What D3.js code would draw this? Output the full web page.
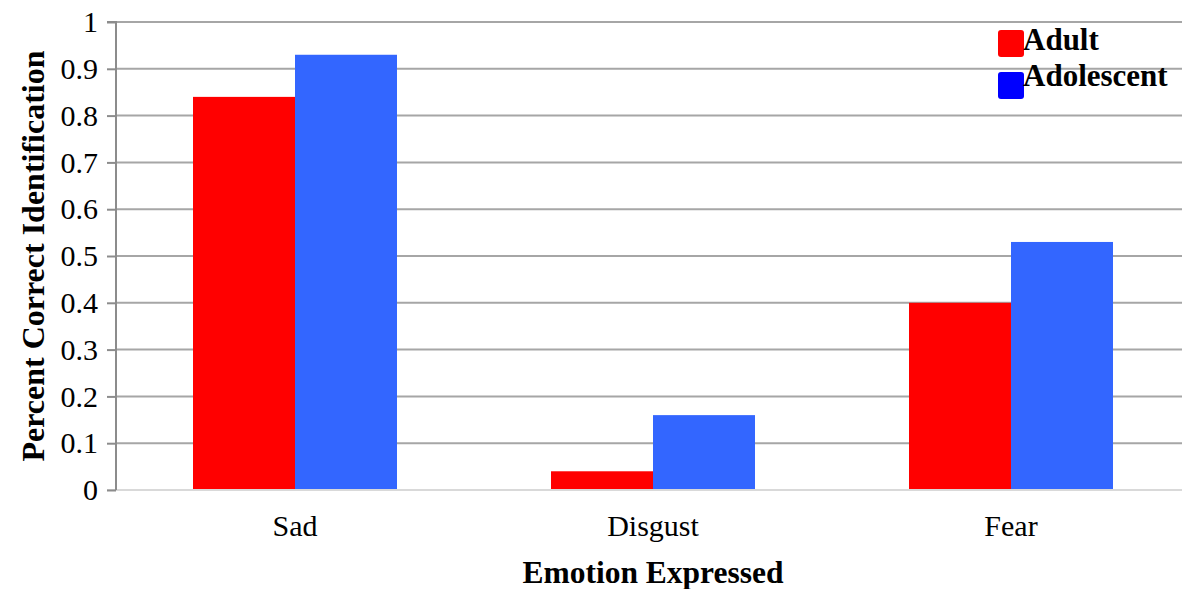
<!DOCTYPE html>
<html><head><meta charset="utf-8">
<script src="https://cdn.jsdelivr.net/npm/d3@7/dist/d3.min.js"></script>
<style>body{margin:0;background:#fff;}svg{display:block;}</style>
</head><body>
<svg id="c" width="1182" height="589"></svg>
<script>
const categories = ["Sad", "Disgust", "Fear"];
const seriesNames = ["Adult", "Adolescent"];
const adultValues = [0.84, 0.04, 0.40];
const adolescentValues = [0.93, 0.16, 0.53];
const yTicks = [0, 0.1, 0.2, 0.3, 0.4, 0.5, 0.6, 0.7, 0.8, 0.9, 1];
const yTickLabels = ["0", "0.1", "0.2", "0.3", "0.4", "0.5", "0.6", "0.7", "0.8", "0.9", "1"];

const barColors = ["#ff0000", "#3366ff"];
const legendColors = ["#ff0000", "#0000ff"];
const font = "'Liberation Serif','Times New Roman',serif";

const svg = d3.select("#c");
const mLeft = 116, mRight = 1190, mTop = 22, mBottom = 490;

const x = d3.scaleBand().domain(categories).range([mLeft, mRight]).paddingInner(0).paddingOuter(0);
const y = d3.scaleLinear().domain([0, 1]).range([mBottom, mTop]);
const inner = d3.scaleBand().domain(seriesNames).range([77, x.bandwidth() - 77]);

// gridlines
svg.append("g").selectAll("line").data(yTicks.filter(d => d > 0)).join("line")
  .attr("x1", mLeft).attr("x2", 1182)
  .attr("y1", d => y(d)).attr("y2", d => y(d))
  .attr("stroke", "#a6a6a6").attr("stroke-width", 2);

// bars
const data = categories.map((c, i) => ({cat: c, vals: [adultValues[i], adolescentValues[i]]}));
const g = svg.append("g");
data.forEach(d => {
  d.vals.forEach((v, j) => {
    g.append("rect")
      .attr("x", x(d.cat) + inner(seriesNames[j]))
      .attr("width", inner.bandwidth())
      .attr("y", y(v))
      .attr("height", y(0) - y(v))
      .attr("fill", barColors[j]);
  });
});

// baseline
svg.append("line").attr("x1", mLeft - 9).attr("x2", 1182).attr("y1", mBottom).attr("y2", mBottom)
  .attr("stroke", "#d9d9d9").attr("stroke-width", 2);

// y axis
const yAxis = d3.axisLeft(y).tickValues(yTicks).tickFormat((d, i) => yTickLabels[i]).tickSize(9).tickPadding(9);
const ya = svg.append("g").attr("transform", `translate(${mLeft},0)`).call(yAxis);
ya.select(".domain").attr("stroke", "#8c8c8c").attr("stroke-width", 2).attr("d", `M-9,${mTop}H0V${mBottom}`);
ya.selectAll(".tick line").attr("stroke", "#8c8c8c").attr("stroke-width", 2);
ya.selectAll(".tick text").attr("font-family", font).attr("font-size", 30).attr("fill", "#000");

// x axis labels
const xAxis = d3.axisBottom(x).tickSize(0).tickPadding(25);
const xa = svg.append("g").attr("transform", `translate(0,${mBottom})`).call(xAxis);
xa.select(".domain").remove();
xa.selectAll(".tick text").attr("font-family", font).attr("font-size", 30).attr("fill", "#000");

// axis titles
svg.append("text").attr("x", 653).attr("y", 583).attr("text-anchor", "middle")
  .attr("font-family", font).attr("font-weight", "bold").attr("font-size", 31.5).text("Emotion Expressed");
svg.append("text").attr("transform", "translate(44,256) rotate(-90)").attr("text-anchor", "middle")
  .attr("font-family", font).attr("font-weight", "bold").attr("font-size", 32).text("Percent Correct Identification");

// legend
const lg = svg.append("g");
const legendY = [30, 72];
const legendBase = [50, 86];
seriesNames.forEach((s, i) => {
  lg.append("rect").attr("x", 998).attr("y", legendY[i]).attr("width", 26).attr("height", 27)
    .attr("rx", 3).attr("fill", legendColors[i]);
  lg.append("text").attr("x", 1023).attr("y", legendBase[i])
    .attr("font-family", font).attr("font-weight", "bold").attr("font-size", 31).attr("fill", "#000").text(s);
});
</script>
</body></html>
